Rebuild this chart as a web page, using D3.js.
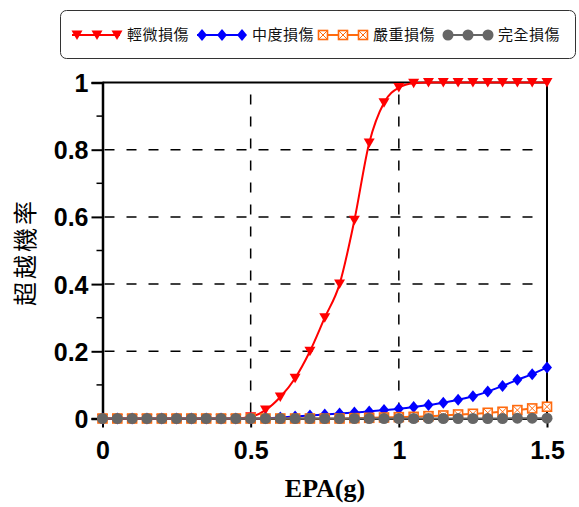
<!DOCTYPE html>
<html>
<head>
<meta charset="utf-8">
<script src="https://cdn.jsdelivr.net/npm/d3@7"></script>
<style>
	body { margin: 0; background: #fff; }
	svg { display: block; }
	.tick-label { font-family: "Liberation Sans", Arial, sans-serif; font-weight: bold; font-size: 25px; fill: #000; }
	.x-title { font-family: "Liberation Serif", "Times New Roman", serif; font-weight: bold; font-size: 26px; fill: #000; }
	.y-title { font-family: "Noto Sans CJK TC", sans-serif; font-size: 24px; letter-spacing: 3px; fill: #000; }
	.legend-label { font-family: "Noto Sans CJK TC", sans-serif; font-size: 15px; letter-spacing: 0.5px; fill: #111; }
</style>
</head>
<body>
<div id="chart"></div>
<script>
// Global vars
var xValues = [0, 0.05, 0.1, 0.15, 0.2, 0.25, 0.3, 0.35, 0.4, 0.45, 0.5, 0.55, 0.6, 0.65, 0.7, 0.75,
	0.8, 0.85, 0.9, 0.95, 1, 1.05, 1.1, 1.15, 1.2, 1.25, 1.3, 1.35, 1.4, 1.45, 1.5];

var slightValues = [0, 0, 0, 0, 0, 0, 0, 0, 0, 0, 0.005, 0.025, 0.064, 0.12, 0.2, 0.3,
	0.4, 0.59, 0.82, 0.94, 0.985, 0.998, 1, 1, 1, 1, 1, 1, 1, 1, 1];
var moderateValues = [0, 0, 0, 0, 0, 0, 0, 0, 0, 0, 0, 0.001, 0.003, 0.006, 0.009, 0.012,
	0.015, 0.018, 0.021, 0.025, 0.029, 0.034, 0.04, 0.047, 0.056, 0.066, 0.08, 0.097, 0.115, 0.132, 0.152];
var extensiveValues = [0, 0, 0, 0, 0, 0, 0, 0, 0, 0, 0, 0, 0, 0, 0, 0,
	0, 0.001, 0.002, 0.003, 0.004, 0.005, 0.007, 0.009, 0.012, 0.014, 0.017, 0.02, 0.025, 0.03, 0.035];
var completeValues = [0, 0, 0, 0, 0, 0, 0, 0, 0, 0, 0, 0, 0, 0, 0, 0,
	0, 0, 0, 0, 0, 0, 0, 0, 0, 0, 0, 0, 0.001, 0.001, 0.001];

var seriesNames = ['輕微損傷', '中度損傷', '嚴重損傷', '完全損傷'];
var xTickValues = [0, 0.5, 1, 1.5];
var xTickLabels = ['0', '0.5', '1', '1.5'];
var yTickValues = [0, 0.2, 0.4, 0.6, 0.8, 1];
var yTickLabels = ['0', '0.2', '0.4', '0.6', '0.8', '1'];
var yMinorTicks = [0.1, 0.3, 0.5, 0.7, 0.9];
var xGridValues = [0.5, 1];
var yGridValues = [0.2, 0.4, 0.6, 0.8];
var xTitle = 'EPA(g)';
var yTitle = '超越機率';

var COLORS = {
	red: '#ff0000',
	blue: '#0000ff',
	orange: '#ff6a0e',
	gray: '#666666'
};

var dataSeries = [
	{ name: seriesNames[0], values: slightValues, color: COLORS.red, marker: 'triangle' },
	{ name: seriesNames[1], values: moderateValues, color: COLORS.blue, marker: 'diamond' },
	{ name: seriesNames[2], values: extensiveValues, color: COLORS.orange, marker: 'boxx' },
	{ name: seriesNames[3], values: completeValues, color: COLORS.gray, marker: 'circle' }
];

/*
 * Draw one marker at (x, y).
 */
var drawMarker = function(g, type, color, x, y) {
	if (type == 'triangle') {
		g.append('path')
			.attr('d', 'M' + (x - 5.5) + ',' + (y - 4.5) + 'L' + (x + 5.5) + ',' + (y - 4.5) + 'L' + x + ',' + (y + 5) + 'Z')
			.attr('fill', color);
	} else if (type == 'diamond') {
		g.append('path')
			.attr('d', 'M' + x + ',' + (y - 6) + 'L' + (x + 5) + ',' + y + 'L' + x + ',' + (y + 6) + 'L' + (x - 5) + ',' + y + 'Z')
			.attr('fill', color);
	} else if (type == 'boxx') {
		var s = 4.5;
		g.append('rect')
			.attr('x', x - s).attr('y', y - s)
			.attr('width', 2 * s).attr('height', 2 * s)
			.attr('fill', '#fff')
			.attr('stroke', color)
			.attr('stroke-width', 1.6);
		g.append('path')
			.attr('d', 'M' + (x - s) + ',' + (y - s) + 'L' + (x + s) + ',' + (y + s) + 'M' + (x + s) + ',' + (y - s) + 'L' + (x - s) + ',' + (y + s))
			.attr('stroke', color)
			.attr('stroke-width', 1);
	} else {
		g.append('circle')
			.attr('cx', x).attr('cy', y).attr('r', 5.5)
			.attr('fill', color);
	}
};

var render = function() {
	var width = 579;
	var height = 507;

	var plot = { left: 102.5, right: 547, top: 82.5, bottom: 418.5 };

	var svg = d3.select('#chart')
		.append('svg')
		.attr('width', width)
		.attr('height', height);

	var xScale = d3.scaleLinear().domain([0, 1.5]).range([plot.left, plot.right]);
	var yScale = d3.scaleLinear().domain([0, 1]).range([plot.bottom, plot.top]);

	/*
	 * Grid
	 */
	var grid = svg.append('g').attr('class', 'grid');
	grid.selectAll('line.h')
		.data(yGridValues)
		.enter()
		.append('line')
		.attr('x1', plot.left + 2)
		.attr('x2', plot.right - 12)
		.attr('y1', function(d) { return yScale(d); })
		.attr('y2', function(d) { return yScale(d); })
		.attr('stroke', '#000')
		.attr('stroke-width', 1.5)
		.attr('stroke-dasharray', '10,12');

	grid.selectAll('line.v')
		.data(xGridValues)
		.enter()
		.append('line')
		.attr('x1', function(d) { return xScale(d); })
		.attr('x2', function(d) { return xScale(d); })
		.attr('y1', plot.top + 12)
		.attr('y2', plot.bottom)
		.attr('stroke', '#000')
		.attr('stroke-width', 1.5)
		.attr('stroke-dasharray', '10,12');

	/*
	 * Frame and axes
	 */
	svg.append('line')
		.attr('x1', plot.left).attr('x2', plot.right)
		.attr('y1', plot.top).attr('y2', plot.top)
		.attr('stroke', '#000').attr('stroke-width', 2);
	svg.append('line')
		.attr('x1', plot.right).attr('x2', plot.right)
		.attr('y1', plot.top).attr('y2', plot.bottom)
		.attr('stroke', '#000').attr('stroke-width', 2);

	var yAxis = d3.axisLeft(yScale)
		.tickValues(yTickValues)
		.tickSize(11)
		.tickFormat(function(d, i) { return yTickLabels[i]; });

	var yAxisG = svg.append('g')
		.attr('transform', 'translate(' + plot.left + ',0)')
		.call(yAxis);
	yAxisG.select('.domain').attr('stroke-width', 2.5);
	yAxisG.selectAll('.tick line').attr('stroke-width', 2);
	yAxisG.selectAll('.tick text')
		.attr('class', 'tick-label')
		.attr('x', -14)
		.attr('dy', '0.36em');

	svg.append('g')
		.selectAll('line')
		.data(yMinorTicks)
		.enter()
		.append('line')
		.attr('x1', plot.left - 6)
		.attr('x2', plot.left)
		.attr('y1', function(d) { return yScale(d); })
		.attr('y2', function(d) { return yScale(d); })
		.attr('stroke', '#000')
		.attr('stroke-width', 1.5);

	var xAxis = d3.axisBottom(xScale)
		.tickValues(xTickValues)
		.tickSize(9)
		.tickSizeOuter(0)
		.tickFormat(function(d, i) { return xTickLabels[i]; });

	var xAxisG = svg.append('g')
		.attr('transform', 'translate(0,' + plot.bottom + ')')
		.call(xAxis);
	xAxisG.select('.domain').attr('stroke-width', 2);
	xAxisG.selectAll('.tick line').attr('stroke-width', 2);
	xAxisG.selectAll('.tick text')
		.attr('class', 'tick-label')
		.attr('y', 23)
		.attr('dy', '0.71em');
	xAxisG.attr('font-family', null).attr('font-size', null);
	yAxisG.attr('font-family', null).attr('font-size', null);

	/*
	 * Titles
	 */
	svg.append('text')
		.attr('class', 'x-title')
		.attr('x', 325)
		.attr('y', 497)
		.attr('text-anchor', 'middle')
		.text(xTitle);

	svg.append('text')
		.attr('class', 'y-title')
		.attr('transform', 'translate(34,252) rotate(-90)')
		.attr('text-anchor', 'middle')
		.text(yTitle);

	/*
	 * Lines and markers
	 */
	var line = d3.line()
		.curve(d3.curveMonotoneX)
		.x(function(d, i) { return xScale(xValues[i]); })
		.y(function(d) { return yScale(d); });

	dataSeries.forEach(function(s) {
		var g = svg.append('g').attr('class', 'series');
		g.append('path')
			.attr('d', line(s.values))
			.attr('fill', 'none')
			.attr('stroke', s.color)
			.attr('stroke-width', 2);
		s.values.forEach(function(v, i) {
			drawMarker(g, s.marker, s.color, xScale(xValues[i]), yScale(v));
		});
	});

	/*
	 * Legend
	 */
	var legend = svg.append('g').attr('class', 'legend');
	legend.append('rect')
		.attr('x', 60.5).attr('y', 10.5)
		.attr('width', 515).attr('height', 48)
		.attr('rx', 6)
		.attr('fill', '#fff')
		.attr('stroke', '#333')
		.attr('stroke-width', 1);

	var legendX = [72, 197, 318, 443];
	var textX = [127, 252, 373, 498];
	var legendY = 35;
	dataSeries.forEach(function(s, i) {
		var x0 = legendX[i];
		legend.append('line')
			.attr('x1', x0).attr('x2', x0 + 48)
			.attr('y1', legendY).attr('y2', legendY)
			.attr('stroke', s.color)
			.attr('stroke-width', 2);
		[5, 25, 45].forEach(function(dx) {
			drawMarker(legend, s.marker, s.color, x0 + dx, legendY);
		});
		legend.append('text')
			.attr('class', 'legend-label')
			.attr('x', textX[i])
			.attr('y', legendY)
			.attr('dy', '0.35em')
			.text(s.name);
	});
};

window.onload = render;
</script>
</body>
</html>
